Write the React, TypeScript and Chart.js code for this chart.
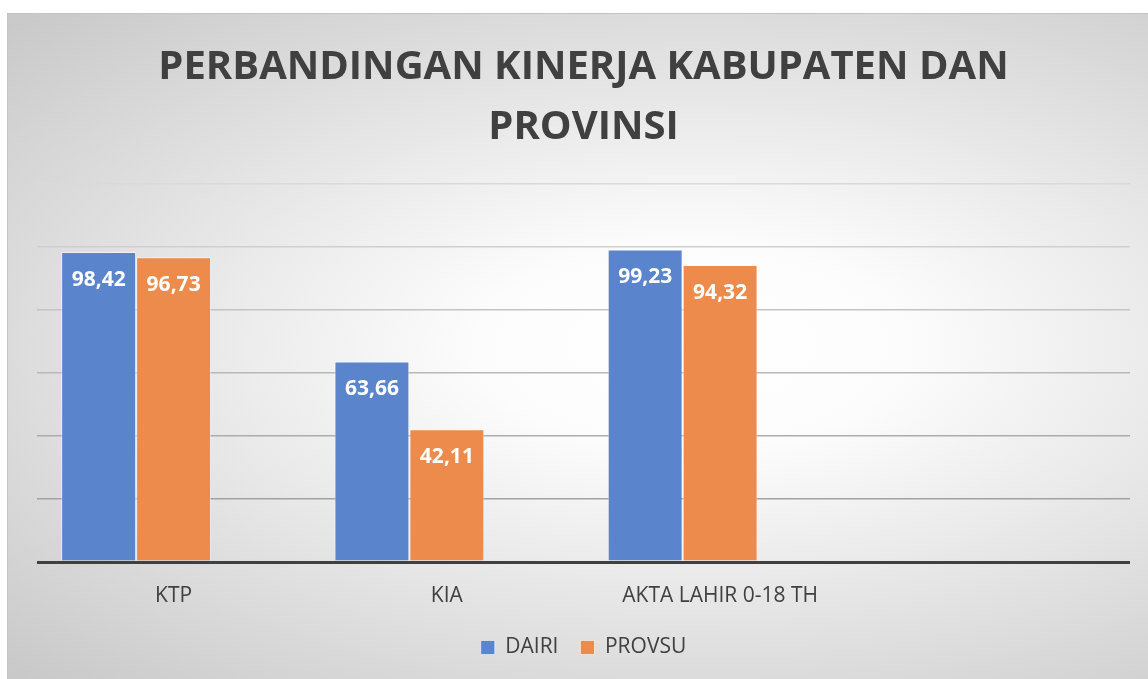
import React, { useEffect, useRef } from "react";
import { Chart, registerables } from "chart.js";

Chart.register(...registerables);

const categories = ["KTP", "KIA", "AKTA LAHIR 0-18 TH", ""];
const dairi = [98.42, 63.66, 99.23, null];
const provsu = [96.73, 42.11, 94.32, null];
const emptySeries = [null, null, null, null];
const titleLines = ["PERBANDINGAN KINERJA KABUPATEN DAN", "PROVINSI"];
const gridColors = ["#404040", "#a2a2a2", "#acacac", "#b8b8b8", "#c4c4c4", "#cfcfcf", "#dadada"];

const FONT = "'Open Sans', 'DejaVu Sans', sans-serif";

const dataLabelPlugin = {
  id: "dataLabels",
  afterDatasetsDraw(chart: any) {
    const ctx = chart.ctx;
    ctx.save();
    ctx.font = `bold 21px ${FONT}`;
    ctx.fillStyle = "#ffffff";
    ctx.textAlign = "center";
    ctx.textBaseline = "middle";
    chart.data.datasets.forEach((ds: any, di: number) => {
      const meta = chart.getDatasetMeta(di);
      meta.data.forEach((el: any, i: number) => {
        const v = ds.data[i];
        if (v === null || v === undefined) return;
        ctx.fillText(v.toFixed(2).replace(".", ","), el.x, el.y + 28);
      });
    });
    ctx.restore();
  },
};

export default function App() {
  const ref = useRef<HTMLCanvasElement>(null);
  useEffect(() => {
    if (!ref.current) return;
    const chart = new Chart(ref.current, {
      type: "bar",
      data: {
        labels: categories,
        datasets: [
          { label: "DAIRI", data: dairi, backgroundColor: "#5A84CB", borderColor: "rgba(255,255,255,0.55)", borderWidth: 1 },
          { label: "PROVSU", data: provsu, backgroundColor: "#EC8B4C", borderColor: "rgba(255,255,255,0.55)", borderWidth: 1 },
          { label: "", data: emptySeries, backgroundColor: "#A5A5A5" },
        ],
      },
      options: {
        responsive: false,
        animation: false,
        devicePixelRatio: 1,
        layout: { padding: { left: 29, right: 18, top: 0, bottom: 11 } },
        datasets: { bar: { categoryPercentage: 0.823, barPercentage: 1.0 } },
        plugins: {
          title: {
            display: true,
            text: titleLines,
            color: "#404040",
            font: { family: FONT, size: 40, weight: "bold", lineHeight: 1.5 },
            padding: { top: 24, bottom: 26 },
          },
          legend: {
            display: true,
            position: "bottom",
            labels: {
              color: "#404040",
              font: { family: FONT, size: 21 },
              boxWidth: 14,
              boxHeight: 14,
              padding: 22,
              filter: (item: any) => item.text !== "",
            },
          },
          tooltip: { enabled: false },
        },
        scales: {
          x: {
            grid: { display: false, drawTicks: false },
            border: { display: false },
            ticks: { color: "#404040", font: { family: FONT, size: 21 }, padding: 21, maxRotation: 0 },
            afterFit: (s: any) => { s.height = 53; },
          },
          y: {
            min: 0,
            max: 120,
            ticks: { display: false, stepSize: 20 },
            border: { display: false },
            grid: {
              drawTicks: false,
              color: (c: any) => gridColors[c.index] || "#d0d0d0",
              lineWidth: (c: any) => (c.index === 0 ? 3 : 1.5),
            },
            afterFit: (s: any) => { s.width = 0; },
          },
        },
      },
      plugins: [dataLabelPlugin],
    } as any);
    return () => chart.destroy();
  }, []);

  return (
    <div
      style={{
        position: "absolute",
        left: 7,
        top: 13,
        width: 1140,
        height: 665,
        borderTop: "1px solid #c4c4c4",
        borderLeft: "1px solid #c4c4c4",
        background: "radial-gradient(ellipse farthest-corner at 60% 50%, #ffffff 0%, #fcfcfc 22%, #c8c8c8 100%)",
      }}
    >
      <canvas ref={ref} width={1140} height={665} style={{ display: "block" }} />
    </div>
  );
}
